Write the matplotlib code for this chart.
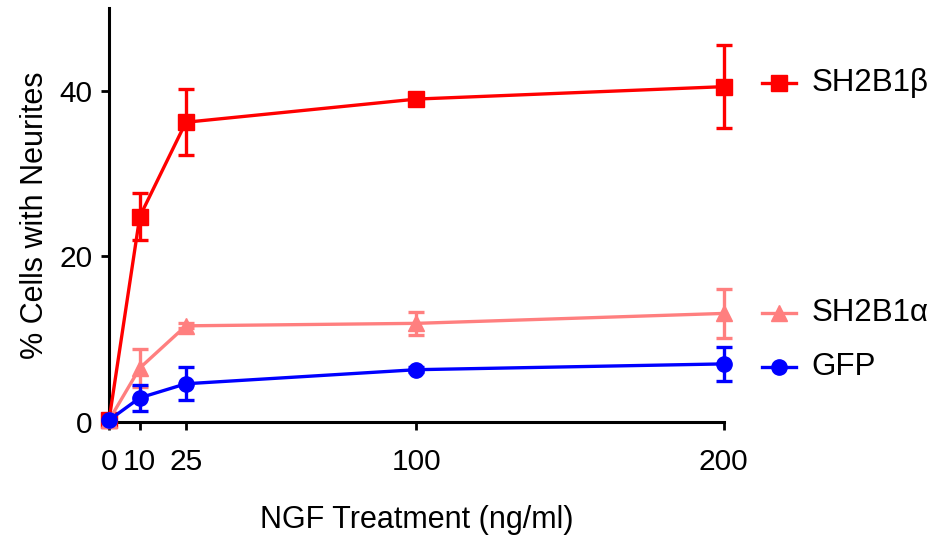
import matplotlib
matplotlib.use("Agg")
import matplotlib.pyplot as plt

plt.rcParams['font.family'] = ['Liberation Sans', 'DejaVu Sans']

ngf = [0, 10, 25, 100, 200]
beta = [0.2, 24.8, 36.2, 39.0, 40.5]
beta_err = [0.0, 2.8, 4.0, 0.3, 5.0]
alpha = [0.2, 6.5, 11.6, 11.9, 13.1]
alpha_err = [0.0, 2.3, 0.3, 1.4, 3.0]
gfp = [0.2, 2.9, 4.6, 6.3, 7.0]
gfp_err = [0.0, 1.6, 2.0, 0.3, 2.1]

series = [
    ("SH2B1\u03b2", beta, beta_err, "#ff0000", "s", 11, 0.5),
    ("SH2B1\u03b1", alpha, alpha_err, "#ff7f7f", "^", 11, 0.1),
    ("GFP", gfp, gfp_err, "#0000ff", "o", 11, -0.4),
]

fig = plt.figure(figsize=(9.4, 5.36), dpi=100)
ax = fig.add_axes([0.116, 0.213, 0.654, 0.772])

for name, y, err, col, mk, ms, off in series:
    ax.errorbar(ngf, y, yerr=err, color=col, marker=mk, markersize=ms,
                linewidth=2.4, elinewidth=2.4, capsize=5.7, capthick=2.4,
                clip_on=False, zorder=3)
    # label next to the end of the line
    ly = y[-1] + off
    ax.plot([212.5, 223.5], [ly, ly], color=col, linewidth=2.4, clip_on=False)
    ax.plot([218], [ly], color=col, marker=mk, markersize=ms, clip_on=False)
    ax.text(228.5, ly, name, fontsize=22.5, va="center", ha="left")

ax.set_xlim(0, 200)
ax.set_ylim(0, 50)
ax.set_xticks(ngf)
ax.set_yticks([0, 20, 40])
ax.tick_params(labelsize=21.5, width=2, length=6)
ax.tick_params(axis='x', pad=13)
ax.tick_params(axis='y', pad=6)
ax.spines['top'].set_visible(False)
ax.spines['right'].set_visible(False)
ax.spines['left'].set_linewidth(2.2)
ax.spines['bottom'].set_linewidth(2.2)
ax.set_xlabel("NGF Treatment (ng/ml)", fontsize=22, labelpad=21)
ax.set_ylabel("% Cells with Neurites", fontsize=22, labelpad=7)

fig.savefig("out.png", dpi=100)
